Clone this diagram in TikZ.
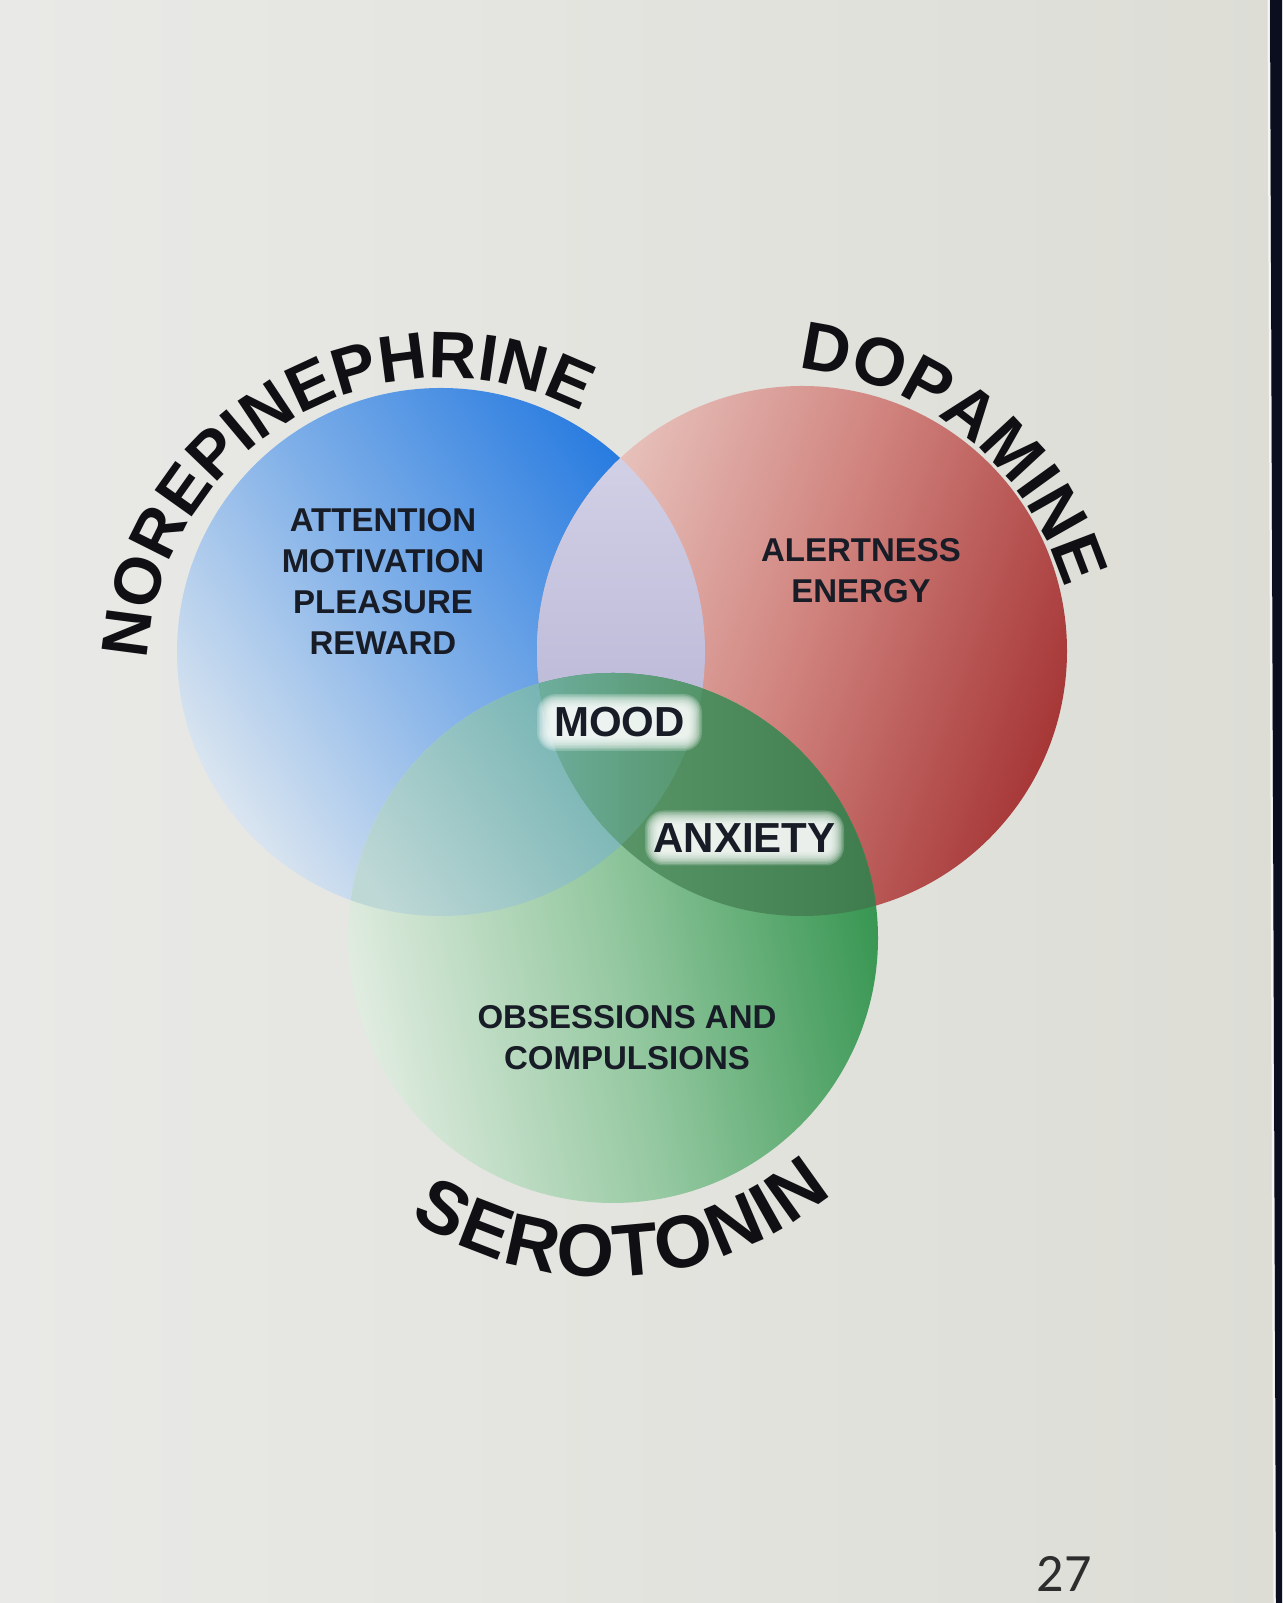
\documentclass[tikz,border=0pt]{standalone}
\usepackage{fontspec}
\setmainfont{Liberation Sans}
\newfontfamily\numfont{Carlito}
\usetikzlibrary{decorations.text}

\definecolor{bgL}{RGB}{233,234,231}
\definecolor{bgR}{RGB}{221,221,214}
\definecolor{bA}{RGB}{218,229,240}
\definecolor{bB}{RGB}{125,174,232}
\definecolor{bC}{RGB}{38,122,224}
\definecolor{rA}{RGB}{234,200,194}
\definecolor{rB}{RGB}{208,130,125}
\definecolor{rC}{RGB}{166,55,55}
\definecolor{gA}{RGB}{224,236,224}
\definecolor{gB}{RGB}{148,200,160}
\definecolor{gC}{RGB}{56,150,82}
\definecolor{lvA}{RGB}{210,208,230}
\definecolor{lvB}{RGB}{176,174,208}
\definecolor{tlA}{RGB}{190,216,214}
\definecolor{tlB}{RGB}{90,166,166}
\definecolor{dgA}{RGB}{96,156,110}
\definecolor{dgB}{RGB}{62,124,78}
\definecolor{trA}{RGB}{110,174,158}
\definecolor{trB}{RGB}{84,148,104}
\definecolor{ink}{RGB}{16,16,20}
\definecolor{lblink}{RGB}{24,28,38}
\definecolor{stripc}{RGB}{10,14,30}
\definecolor{numink}{RGB}{45,45,45}

\pgfdeclarehorizontalshading{blueS}{100bp}{color(0bp)=(bA); color(25bp)=(bA); color(50bp)=(bB); color(75bp)=(bC); color(100bp)=(bC)}
\pgfdeclarehorizontalshading{redS}{100bp}{color(0bp)=(rA); color(25bp)=(rA); color(50bp)=(rB); color(75bp)=(rC); color(100bp)=(rC)}
\pgfdeclarehorizontalshading{greenS}{100bp}{color(0bp)=(gA); color(25bp)=(gA); color(50bp)=(gB); color(75bp)=(gC); color(100bp)=(gC)}
\pgfdeclarehorizontalshading{tealS}{100bp}{color(0bp)=(tlA); color(25bp)=(tlA); color(75bp)=(tlB); color(100bp)=(tlB)}

\newcommand{\arcfontN}{\fontsize{66}{66}\selectfont\bfseries\color{ink}}
\newcommand{\arcfontA}{\fontsize{68}{68}\selectfont\bfseries\color{ink}}
\newcommand{\arcfontB}{\fontsize{74}{74}\selectfont\bfseries\color{ink}}
\newcommand{\lblfont}{\fontsize{33}{41}\selectfont\bfseries}
\newcommand{\tagfont}{\fontsize{42}{42}\selectfont\bfseries}

\begin{document}
\begin{tikzpicture}[x=1pt,y=1pt,
  lbl/.style={font=\lblfont, text=lblink, align=center, inner sep=0pt},
  tagtext/.style={font=\tagfont, text=lblink, inner sep=0pt},
  glow/.style={fill=white, fill opacity=0.2, draw=none, inner sep=0pt},
]
\useasboundingbox (0,0) rectangle (1282,1603);
% background
\shade[left color=bgL, right color=bgR] (0,0) rectangle (1282,1603);

% centres
\coordinate (cB) at (441,951);
\coordinate (cR) at (802,952);
\coordinate (cG) at (613,665);

% circles
\shade[shading=blueS, shading angle=35] (cB) circle[radius=264pt];
\shade[shading=redS, shading angle=-20] (cR) circle[radius=265pt];
\shade[shading=greenS, shading angle=12] (cG) circle[radius=265pt];

% blue & red
\begin{scope}
  \clip (cB) circle[radius=264pt];
  \clip (cR) circle[radius=265pt];
  \shade[top color=lvA, bottom color=lvB] (535,757) rectangle (707,1146);
\end{scope}
% blue & green
\begin{scope}
  \clip (cB) circle[radius=264pt];
  \clip (cG) circle[radius=265pt];
  \shade[shading=tealS, shading angle=35] (347,628) rectangle (707,988);
\end{scope}
% red & green
\begin{scope}
  \clip (cR) circle[radius=265pt];
  \clip (cG) circle[radius=265pt];
  \shade[left color=dgA, right color=dgB] (535,685) rectangle (880,932);
\end{scope}
% all three
\begin{scope}
  \clip (cB) circle[radius=264pt];
  \clip (cR) circle[radius=265pt];
  \clip (cG) circle[radius=265pt];
  \shade[left color=trA, right color=trB] (535,685) rectangle (707,932);
\end{scope}

% labels
\node[lbl] (attn) at (383,1022) {ATTENTION\\MOTIVATION\\PLEASURE\\REWARD};
\node[lbl] (alert) at (861,1032) {ALERTNESS\\ENERGY};
\node[lbl] (obs) at (627,565) {OBSESSIONS AND\\COMPULSIONS};

\coordinate (moodc) at (619.5,880.5);
\coordinate (anxc) at (744.5,765);
\foreach \k in {0,...,9} {
  \node[glow, rounded corners={6+1.4*\k}, minimum width={138+3*\k}, minimum height={30+3*\k}] (mg\k) at (moodc) {};
  \node[glow, rounded corners={6+1.4*\k}, minimum width={172+3*\k}, minimum height={28+3*\k}] (ag\k) at (anxc) {};
}
\node[tagtext] (mood) at (moodc) {MOOD};
\node[tagtext] (anx) at (anxc) {ANXIETY};

% arc titles
\coordinate (cN) at (444,928);
\coordinate (cD) at (768.4,926.6);
\coordinate (cS) at (605,682);
\path[decorate, decoration={text along path, text={|\arcfontN|NOREPINEPHRINE}, text align={fit to path}}]
  (cN) ++(177.1:297pt) arc[start angle=177.1, end angle=65, radius=297pt];
\path[decorate, decoration={text along path, text={|\arcfontA|DOPAMINE}, text align={fit to path}}]
  (cD) ++(84.4:309.9pt) arc[start angle=84.4, end angle=20.4, radius=309.9pt];
\path[decorate, decoration={text along path, text={|\arcfontB|SEROTONIN}, text align={fit to path}}]
  (cS) ++(236.7:355.5pt) arc[start angle=236.7, end angle=309.8, radius=355.5pt];

% page number
\node[font=\numfont\fontsize{54}{54}\selectfont, text=numink, inner sep=0pt] (pnum) at (1064,29) {27};

% screen edge
\draw[line width=2pt, white!92!gray] (1268.5,1603) -- (1274.5,0);
\fill[stripc] (1270,1603) -- (1282,1603) -- (1282,0) -- (1276,0) -- cycle;
\end{tikzpicture}
\end{document}
